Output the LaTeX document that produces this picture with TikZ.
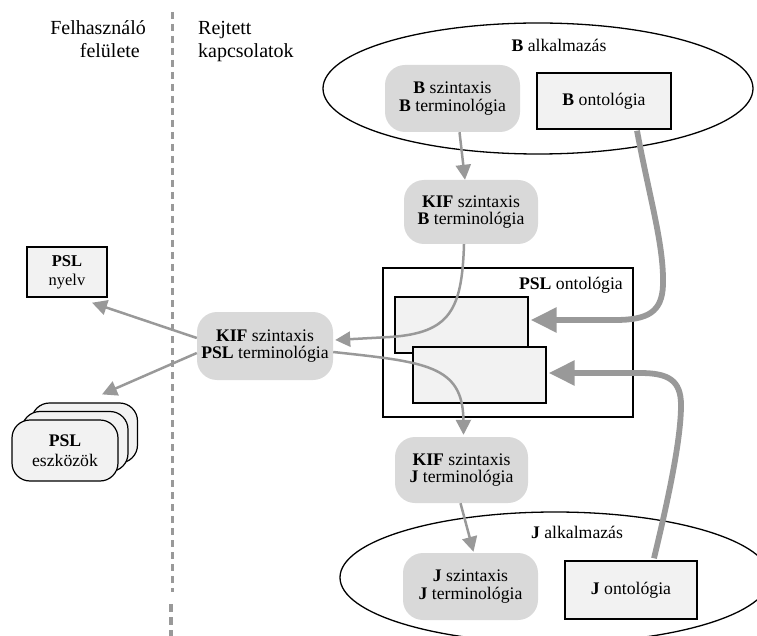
\documentclass[tikz,border=0pt]{standalone}
\usepackage{fontspec}
\setmainfont{Liberation Serif}
\usetikzlibrary{arrows.meta,shapes.geometric,calc}

\definecolor{arrowgray}{RGB}{153,153,153}
\definecolor{bubblegray}{RGB}{217,217,217}
\definecolor{panelgray}{RGB}{242,242,242}

\newcommand\hdfont{\fontsize{20}{23}\selectfont}
\newcommand\bxfont{\fontsize{17.7}{17.5}\selectfont}
\newcommand\smfont{\fontsize{16.5}{19}\selectfont}

\tikzset{
  bubble/.style={fill=bubblegray, rounded corners=20pt, inner sep=0pt,
    align=center, font=\bxfont, minimum width=135pt, minimum height=66pt},
  panel/.style={draw, fill=panelgray, line width=1.4pt, inner sep=0pt,
    align=center, font=\bxfont},
  card/.style={draw, fill=panelgray, line width=1.2pt, rounded corners=18pt,
    inner sep=0pt, align=center, font=\fontsize{17.7}{20}\selectfont,
    minimum width=106pt, minimum height=60pt},
  app/.style={ellipse, draw, line width=1.3pt, inner sep=0pt,
    minimum width=430pt, minimum height=131pt},
  label/.style={font=\bxfont, inner sep=0pt},
  heading/.style={font=\hdfont, inner sep=0pt},
  thinarrow/.style={draw=arrowgray, line width=2.5pt,
    -{Triangle[length=15pt,width=15pt]}},
  thickarrow/.style={draw=arrowgray, line width=5.8pt,
    -{Triangle[length=26pt,width=24pt]}}
}

\begin{document}
\begin{tikzpicture}[x=1pt, y=-1pt]
\useasboundingbox (0,0) rectangle (757,636);

% divider between the two columns
\draw[arrowgray, line width=3pt, dash pattern=on 7pt off 5pt] (172,12) -- (172,592);
\draw[arrowgray, line width=3.6pt, dash pattern=on 8pt off 5pt] (171,604) -- (171,636);

% column headings
\node[heading, anchor=base east] at (146,35) {Felhasználó};
\node[heading, anchor=base east] at (140,58) {felülete};
\node[heading, anchor=base west] at (198,35) {Rejtett};
\node[heading, anchor=base west] at (198,58) {kapcsolatok};

% applications
\node[app] (bapp) at (538,88.5) {};
\node[label, anchor=base] at (559,52) {\textbf{B} alkalmazás};
\node[app] (japp) at (555,577.5) {};
\node[label, anchor=base] at (577,538) {\textbf{J} alkalmazás};

% B side
\node[bubble, minimum width=135pt, minimum height=67pt] (bsz) at (452.5,98.5)
  {\textbf{B} szintaxis\\\textbf{B} terminológia};
\node[panel, minimum width=134pt, minimum height=56pt] (bont) at (604,101)
  {\textbf{B} ontológia};
\node[bubble, minimum width=134pt, minimum height=64pt] (kifb) at (471,212)
  {\textbf{KIF} szintaxis\\\textbf{B} terminológia};

% PSL ontology
\node[draw, line width=1.4pt, inner sep=0pt, minimum width=250pt,
  minimum height=149pt] (pslont) at (508,342.5) {};
\node[label, anchor=base east] at (623,289) {\textbf{PSL} ontológia};
\node[panel, minimum width=133pt, minimum height=56pt] (in1) at (461.5,325) {};
\node[panel, minimum width=133pt, minimum height=56pt] (in2) at (479.5,375) {};

% KIF with PSL terminology
\node[bubble, minimum width=136pt, minimum height=68pt] (kifpsl) at (265,346)
  {\textbf{KIF} szintaxis\\\textbf{PSL} terminológia};

% J side
\node[bubble, minimum width=133pt, minimum height=66pt] (kifj) at (461.5,470)
  {\textbf{KIF} szintaxis\\\textbf{J} terminológia};
\node[bubble, minimum width=135pt, minimum height=67pt] (jsz) at (470.5,586.5)
  {\textbf{J} szintaxis\\\textbf{J} terminológia};
\node[panel, minimum width=132pt, minimum height=58pt] (jont) at (631,590)
  {\textbf{J} ontológia};

% user side
\node[panel, font=\smfont, minimum width=80pt, minimum height=50pt] (nyelv) at (67,272)
  {\textbf{PSL}\\nyelv};
\node[card] (esz3) at (84.5,433) {};
\node[card] (esz2) at (75,441.5) {};
\node[card, minimum height=61pt] (esz1) at (65,450.5) {\textbf{PSL}\\eszközök};

% connectors
\draw[thinarrow] ([xshift=7pt]bsz.south) -- ([xshift=-6pt]kifb.north);
\draw[thinarrow] ([xshift=-7pt]kifb.south)
  .. controls (462,310) and (450,333) .. (390,337)
  -- ([xshift=2pt,yshift=6pt]kifpsl.east);
\draw[thinarrow] ([yshift=-6pt]kifpsl.east)
  .. controls (425,362) and (463,365) .. ([xshift=2pt,yshift=2pt]kifj.north);
\draw[thinarrow] ([xshift=-1pt]kifj.south) -- ([xshift=3pt,yshift=1pt]jsz.north);
\draw[thinarrow] ([yshift=8pt]kifpsl.west) -- ([xshift=25pt,yshift=-5pt]nyelv.south);
\draw[thinarrow] ([yshift=-7pt]kifpsl.west) -- ([xshift=17.5pt,yshift=8pt]esz3.north);

\draw[thickarrow] ([xshift=33pt,yshift=-1pt]bont.south)
  .. controls (650,200) and (664,245) .. (663,285)
  .. controls (662,312) and (648,320) .. (615,320)
  -- ([xshift=2pt,yshift=5pt]in1.east);
\draw[thickarrow] ([xshift=23pt,yshift=2pt]jont.north)
  .. controls (668,500) and (681,440) .. (681,405)
  .. controls (681,380) and (668,373) .. (640,373)
  -- ([xshift=2pt,yshift=2pt]in2.east);
\end{tikzpicture}
\end{document}
